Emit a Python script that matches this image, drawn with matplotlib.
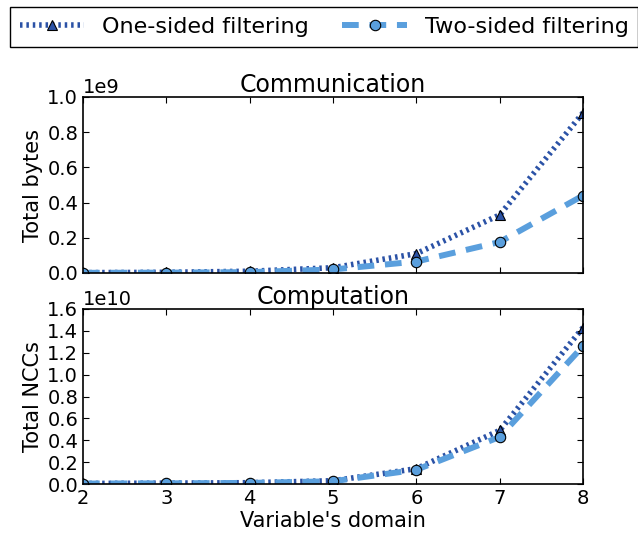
import numpy as np
import matplotlib
matplotlib.use("Agg")
import matplotlib.pyplot as plt

domains = [2, 3, 4, 5, 6, 7, 8]
comm_one_sided = [0.002e9, 0.004e9, 0.01e9, 0.03e9, 0.11e9, 0.33e9, 0.91e9]
comm_two_sided = [0.001e9, 0.002e9, 0.005e9, 0.02e9, 0.065e9, 0.176e9, 0.44e9]
comp_one_sided = [0.005e10, 0.008e10, 0.012e10, 0.03e10, 0.14e10, 0.49e10, 1.43e10]
comp_two_sided = [0.004e10, 0.006e10, 0.010e10, 0.025e10, 0.13e10, 0.43e10, 1.26e10]

labels = ["One-sided filtering", "Two-sided filtering"]
dark_blue = "#2b52a6"
light_blue = "#5a9fdd"

plt.rcParams.update({
    "font.family": "DejaVu Sans",
    "xtick.direction": "in",
    "ytick.direction": "in",
    "xtick.top": True,
    "ytick.right": True,
    "xtick.major.size": 4,
    "ytick.major.size": 4,
    "axes.linewidth": 1.2,
})

fig = plt.figure(figsize=(6.38, 5.37), dpi=100)
ax1 = fig.add_axes([83 / 638, 1 - 273 / 537, 500 / 638, 176 / 537])
ax2 = fig.add_axes([83 / 638, 1 - 484 / 537, 500 / 638, 175 / 537], sharex=ax1)


def draw(ax, one, two):
    h1, = ax.plot(domains, one, linestyle=":", linewidth=4, color=dark_blue,
                  dashes=(0.45, 0.7), marker="^", markersize=7.5,
                  markeredgecolor="black", markeredgewidth=0.8,
                  label=labels[0])
    h2, = ax.plot(domains, two, linestyle="--", linewidth=4.3, color=light_blue,
                  dashes=(2.8, 1.8), marker="o", markersize=7.5,
                  markeredgecolor="black", markeredgewidth=0.8,
                  label=labels[1])
    ax.tick_params(labelsize=14)
    ax.yaxis.get_offset_text().set_fontsize(14)
    return h1, h2


h1, h2 = draw(ax1, comm_one_sided, comm_two_sided)
draw(ax2, comp_one_sided, comp_two_sided)

ax1.set_xlim(2, 8)
ax1.set_ylim(0, 1.0e9)
ax1.set_yticks(np.arange(0, 1.01e9, 0.2e9))
ax2.set_ylim(0, 1.6e10)
ax2.set_yticks(np.arange(0, 1.61e10, 0.2e10))
plt.setp(ax1.get_xticklabels(), visible=False)

ax1.set_title("Communication", fontsize=17, pad=3)
ax2.set_title("Computation", fontsize=17, pad=3)
ax1.set_ylabel("Total bytes", fontsize=15, labelpad=3)
ax2.set_ylabel("Total NCCs", fontsize=15, labelpad=3)
ax2.set_xlabel("Variable's domain", fontsize=15, labelpad=2)

leg = fig.legend([h1, h2], labels, loc="upper left", ncol=2,
                 bbox_to_anchor=(10 / 638, 1 - 7 / 537), fontsize=16,
                 fancybox=False, edgecolor="black", framealpha=1,
                 handlelength=2.9, handletextpad=0.8, columnspacing=1.5,
                 borderpad=0.45, borderaxespad=0)
leg.get_frame().set_linewidth(1.0)

fig.savefig("out.png", dpi=100)
